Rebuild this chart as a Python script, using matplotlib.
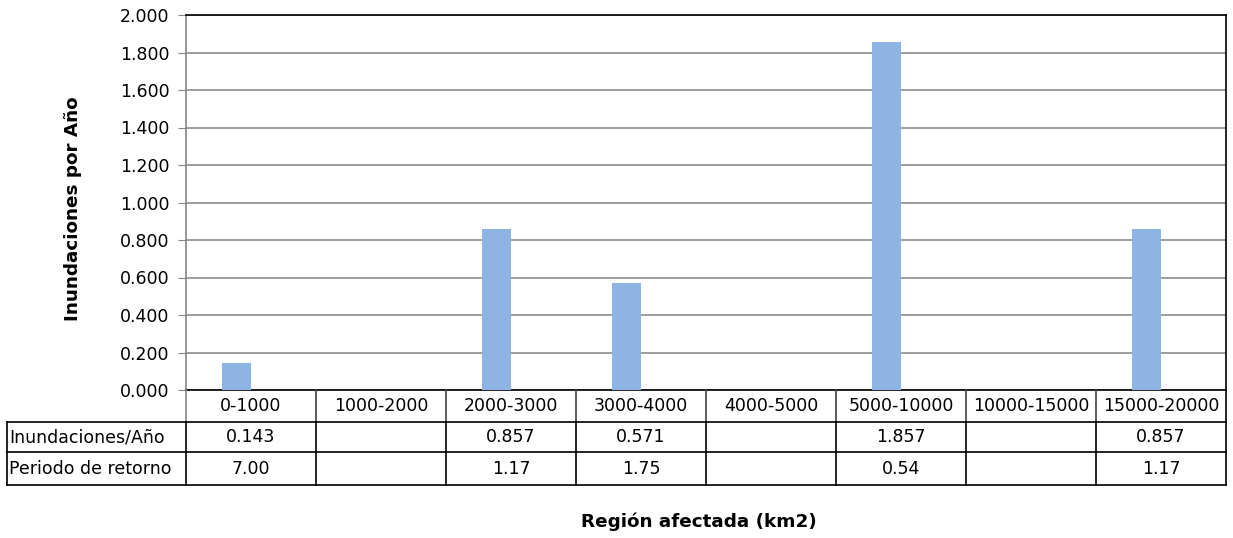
import numpy as np
import matplotlib
matplotlib.use("Agg")
import matplotlib.pyplot as plt
from matplotlib.transforms import blended_transform_factory

plt.rcParams['font.family'] = ['DejaVu Sans']

categories = ["0-1000", "1000-2000", "2000-3000", "3000-4000", "4000-5000",
              "5000-10000", "10000-15000", "15000-20000"]
floods_per_year = [0.143, np.nan, 0.857, 0.571, np.nan, 1.857, np.nan, 0.857]
return_period = [7.00, np.nan, 1.17, 1.75, np.nan, 0.54, np.nan, 1.17]
yticks = [0.0, 0.2, 0.4, 0.6, 0.8, 1.0, 1.2, 1.4, 1.6, 1.8, 2.0]
row_labels = ["Inundaciones/Año", "Periodo de retorno"]

FS = 12.5
FSB = 13.2

W, H = 1233, 538
fig = plt.figure(figsize=(W / 100, H / 100), dpi=100)

# plot area in pixels
L, R, T, B = 186, 1226, 15, 390
ax = fig.add_axes([L / W, 1 - B / H, (R - L) / W, (B - T) / H])

x = np.arange(len(categories))
# clustered-bar slot: the visible series sits in the left half of each category
ax.bar(x, np.nan_to_num(floods_per_year), width=-0.223, align="edge",
       color="#8EB4E3", zorder=3)
ax.set_xlim(-0.5, len(categories) - 0.5)
ax.set_ylim(0, 2.0)
ax.set_yticks(yticks)
ax.set_yticklabels([f"{v:.3f}" for v in yticks], fontsize=FS)
ax.tick_params(axis="y", length=6, color="#868686", pad=6)
ax.set_xticks([])
ax.grid(axis="y", color="#8c8c8c", linewidth=1.2, zorder=0)
ax.spines["left"].set_color("#868686")
ax.spines["left"].set_linewidth(1.2)
for s in ("top", "right", "bottom"):
    ax.spines[s].set_color("black")
    ax.spines[s].set_linewidth(1.2)


def fy(py):
    return 1 - py / H


fig.text(73 / W, fy(209), "Inundaciones por Año", rotation=90, ha="center",
         va="center", fontsize=FSB, fontweight="bold")

# data table beneath the axis
tr = blended_transform_factory(ax.transData, fig.transFigure)
trf = fig.transFigure
row_edges = [390, 422, 452, 485]
x_left_px = 7

# header row (category labels)
for i, c in enumerate(categories):
    fig.text(i, fy((row_edges[0] + row_edges[1]) / 2), c, transform=tr,
             ha="center", va="center", fontsize=FS)
# column separators in header row
for i in range(len(categories) + 1):
    xi = i - 0.5
    if i == 0:
        col = "#868686"
    elif i == len(categories):
        col = "black"
    else:
        col = "#404040"
    fig.add_artist(plt.Line2D([xi, xi], [fy(row_edges[0]), fy(row_edges[1])],
                              transform=tr, color=col, linewidth=1.2))
# body rows
x_left = x_left_px / W
x_right = R / W
for py in row_edges[1:]:
    fig.add_artist(plt.Line2D([x_left, x_right], [fy(py), fy(py)],
                              transform=trf, color="black", linewidth=1.2))
fig.add_artist(plt.Line2D([x_left, x_left], [fy(row_edges[1]), fy(row_edges[3])],
                          transform=trf, color="black", linewidth=1.2))
for i in range(len(categories) + 1):
    xi = i - 0.5
    fig.add_artist(plt.Line2D([xi, xi], [fy(row_edges[1]), fy(row_edges[3])],
                              transform=tr, color="black", linewidth=1.2))

rows = [
    [("" if np.isnan(v) else f"{v:.3f}") for v in floods_per_year],
    [("" if np.isnan(v) else f"{v:.2f}") for v in return_period],
]
for r, (label, vals) in enumerate(zip(row_labels, rows)):
    yc = fy((row_edges[r + 1] + row_edges[r + 2]) / 2)
    fig.text((x_left_px + 2) / W, yc, label, transform=trf,
             ha="left", va="center", fontsize=FS)
    for i, s in enumerate(vals):
        if s:
            fig.text(i, yc, s, transform=tr, ha="center", va="center", fontsize=FS)

fig.text(699 / W, fy(522), "Región afectada (km2)", ha="center", va="center",
         fontsize=FSB, fontweight="bold")

fig.savefig("out.png", dpi=100, facecolor="white")
